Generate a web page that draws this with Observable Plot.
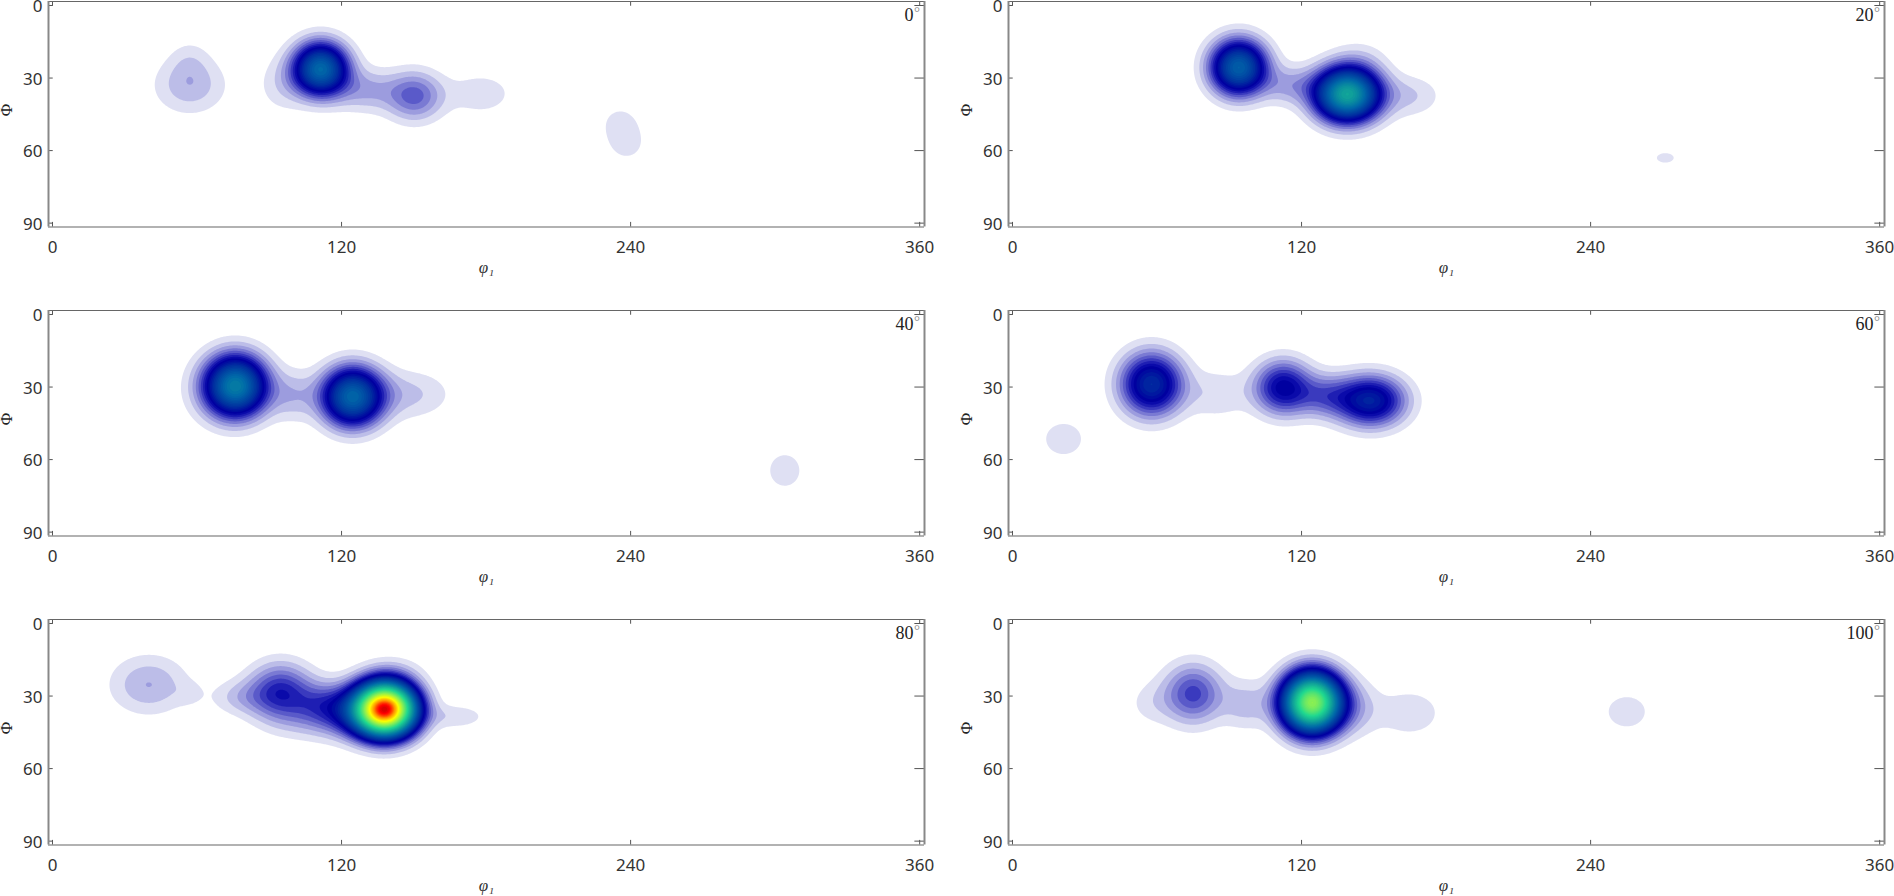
<!DOCTYPE html>
<html><head><meta charset="utf-8">
<script src="https://cdn.jsdelivr.net/npm/d3@7"></script>
<script src="https://cdn.jsdelivr.net/npm/@observablehq/plot@0.6"></script>
<style>
html,body{margin:0;padding:0;background:#fff;overflow:hidden}
.p{position:absolute}
</style></head><body>
<script>
// Sections of the orientation density, with the density modes estimated by eye from the reference.
const sections = [0, 20, 40, 60, 80, 100];
const xTicks = [0, 120, 240, 360];
const yTicks = [0, 30, 60, 90];
const peakPhi1 = [
  [111.3, 150.3, 178, 57, 57, 237, 233, 241, 130, 95],
  [93.9, 139, 165, 145, 115, 271],
  [76, 124.5, 148, 100, 304, 70],
  [57.7, 112.3, 148.7, 130, 85, 21.2],
  [40, 57, 94.7, 78, 138.3, 130, 168, 112, 110, 142],
  [75, 124.4, 165, 143, 97, 57, 255]
];
const peakPhi = [
  [26.3, 37.4, 36.5, 33, 22, 53, 48, 58, 35, 33],
  [25.6, 36.7, 37.4, 22, 33, 63],
  [29.5, 34, 33, 33.5, 64.5, 32],
  [28.8, 30.2, 35.7, 33.7, 33, 51.5],
  [25.3, 29, 28.5, 30.5, 35.4, 36, 38.5, 33, 40, 20],
  [29, 32.7, 37, 35, 33.5, 33, 36.5]
];
const peakHeight = [
  [20, 5.4, 1.6, 2.8, 1, 1.3, 0.2, 0.2, 3, 1.5],
  [19, 28, 2, 1, 3, 1.08],
  [22, 19.5, 2.2, 2.5, 1.5, 1],
  [13, 9.5, 12, 4.5, 1.8, 1.5],
  [3.02, 0.8, 7.5, 2, 62, 10, 1.7, 3.5, 1.8, 1],
  [6.4, 45, 1.8, 2, 2.4, 1.2, 1.5]
];
const peakWidth = [
  [7.5, 8, 10, 10.1, 6, 8.6, 4, 4, 9, 7],
  [7.7, 8.8, 9, 8, 8, 8.9],
  [8.5, 8.3, 12, 7, 6.7, 12],
  [8.6, 8, 9.5, 8, 9, 8],
  [11, 4, 9, 8.5, 8, 11, 8.5, 8, 12, 9],
  [8.4, 8, 9.5, 7, 7, 7, 8.3]
];
const peakDepth = [
  [7.2, 7, 6.5, 8, 6, 11, 4, 4, 6, 8],
  [7.5, 7.3, 6, 6, 5.5, 5],
  [8.3, 8, 7, 7, 7, 10],
  [8.6, 7.5, 7, 6, 7, 6.9],
  [8.3, 3.5, 8, 5, 7, 7, 3.5, 6, 6, 5],
  [8.4, 8, 7, 8, 7, 6.5, 6.7]
];
const levelValues = [0, 1, 2, 3, 4, 5, 6, 7, 8, 9, 13, 20, 27, 35, 45, 54, 61, 67, 72];
const levelColors = ["#ffffff","#dfe0f3","#bcbde8","#9c9cde","#7a7ad3","#5a5ac9","#3a3abe","#1e1eb3","#0a0aaa","#0000a0","#0030a0","#006aa8","#10a09a","#20d890","#90f050","#ffff00","#ff9000","#ff0000","#a00000"];
const thresholds = d3.range(1, 73, 1);

const xDomain = [-1.66, 362];
const yDomain = [91.6, -1.66];
const density = (i) => (x, y) => {
  let s = 0;
  for (let k = 0; k < peakPhi1[i].length; k++) {
    const dx = (x - peakPhi1[i][k]) / peakWidth[i][k];
    const dy = (y - peakPhi[i][k]) / peakDepth[i][k];
    s += peakHeight[i][k] * Math.exp(-0.5 * (dx * dx + dy * dy));
  }
  return s;
};

sections.forEach((sec, i) => {
  const plot = Plot.plot({
    width: 934, height: 277,
    marginLeft: 48, marginRight: 10, marginTop: 1, marginBottom: 50.5,
    style: {background: "transparent", overflow: "visible"},
    x: {domain: xDomain, axis: null},
    y: {domain: yDomain, axis: null},
    color: {type: "linear", domain: levelValues, range: levelColors, clamp: true, interpolate: "rgb"},
    marks: [
      Plot.contour({x1: 0, x2: 360, y1: 0, y2: 90, fill: density(i), thresholds, pixelSize: 1, stroke: "none"}),
      Plot.axisX({ticks: xTicks, tickSize: 0, tickPadding: 14, fontSize: 17, fontFamily: "Noto Sans", fill: "#333", label: null, tickFormat: d => d}),
      Plot.axisY({ticks: yTicks, tickSize: 0, tickPadding: 6, fontSize: 17, fontFamily: "Noto Sans", fill: "#333", label: null, tickFormat: d => d, dy: 1}),
      Plot.ruleX(xTicks, {y1: yDomain[0], y2: 89.7, stroke: "#555", strokeWidth: 1}),
      Plot.ruleX(xTicks, {y1: yDomain[1], y2: 0.3, stroke: "#555", strokeWidth: 1}),
      Plot.ruleY(yTicks, {x1: xDomain[0], x2: 0.3, stroke: "#555", strokeWidth: 1}),
      Plot.ruleY(yTicks, {x1: xDomain[1], x2: 358, stroke: "#555", strokeWidth: 1}),
      Plot.ruleY([yDomain[0], yDomain[1]], {stroke: "#666", strokeWidth: 1.2}),
      Plot.ruleX([xDomain[0], xDomain[1]], {stroke: "#888", strokeWidth: 2}),
      Plot.text(["φ₁"], {frameAnchor: "bottom", dy: 41, lineAnchor: "middle", fontFamily: "Liberation Serif", fontStyle: "italic", fontSize: 17, fill: "#333"}),
      Plot.text(["Φ"], {frameAnchor: "left", dx: -41.5, dy: 2, rotate: -90, fontFamily: "Liberation Serif", fontSize: 17, fill: "#222"}),
      Plot.text([sec], {frameAnchor: "top-right", dx: -11, dy: 14, textAnchor: "end", lineAnchor: "middle", fontFamily: "Liberation Serif", fontSize: 18, fill: "#222"}),
      Plot.text(["°"], {frameAnchor: "top-right", dx: -10.5, dy: 11, textAnchor: "start", lineAnchor: "middle", fontFamily: "Liberation Serif", fontSize: 15, fill: "#888"})
    ]
  });
  const d = document.createElement("div");
  d.className = "p";
  d.style.left = (i % 2) * 960 + "px";
  d.style.top = Math.floor(i / 2) * 309 + "px";
  d.appendChild(plot);
  document.body.appendChild(d);
});
</script>
</body></html>
